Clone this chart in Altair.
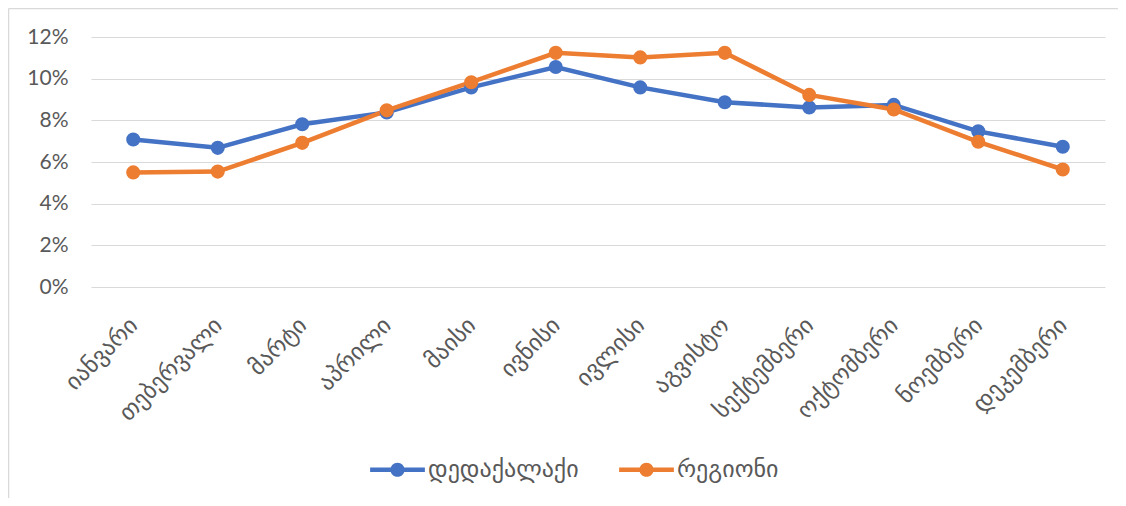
import altair as alt
import pandas as pd

months = ["იანვარი", "თებერვალი", "მარტი", "აპრილი", "მაისი", "ივნისი",
          "ივლისი", "აგვისტო", "სექტემბერი", "ოქტომბერი", "ნოემბერი", "დეკემბერი"]
capital = [7.08, 6.68, 7.81, 8.38, 9.58, 10.56, 9.58, 8.87, 8.62, 8.74, 7.47, 6.73]
region = [5.50, 5.54, 6.92, 8.48, 9.83, 11.24, 11.02, 11.24, 9.22, 8.52, 6.97, 5.64]
series = ["დედაქალაქი", "რეგიონი"]
colors = ["#4472C4", "#ED7D31"]

rows = []
for m, c, r in zip(months, capital, region):
    rows.append({"month": m, "series": series[0], "value": c / 100})
    rows.append({"month": m, "series": series[1], "value": r / 100})
df = pd.DataFrame(rows)

FONT = "Lato, DejaVu Sans"
legend_path = ("M -1 -0.085 L 1 -0.085 L 1 0.085 L -1 0.085 Z "
               "M 0.26 0 A 0.26 0.26 0 1 1 -0.26 0 A 0.26 0.26 0 1 1 0.26 0 Z")

base = alt.Chart(df)
lines = base.mark_line(strokeWidth=4.5, point=alt.OverlayMarkDef(filled=True, size=200, opacity=1)).encode(
    x=alt.X("month:N", sort=months, title=None,
            scale=alt.Scale(paddingInner=1, paddingOuter=0.5),
            axis=alt.Axis(labelAngle=-45, ticks=False, domain=False, labelFontSize=23.5,
                          labelPadding=26, labelOffset=-8, labelColor="#595959", labelFont=FONT)),
    y=alt.Y("value:Q", title=None,
            scale=alt.Scale(domain=[0, 0.12], nice=False),
            axis=alt.Axis(format=".0%", values=[0, 0.02, 0.04, 0.06, 0.08, 0.10, 0.12],
                          ticks=False, domain=False, labelFontSize=21, labelPadding=23,
                          labelColor="#595959", labelFont=FONT, gridColor="#D9D9D9",
                          gridWidth=1.2)),
    color=alt.Color("series:N", sort=series,
                    scale=alt.Scale(domain=series, range=colors),
                    legend=alt.Legend(title=None, orient="none", direction="horizontal",
                                      legendX=279, legendY=405,
                                      symbolType=legend_path, symbolSize=3000,
                                      symbolStrokeWidth=0, labelFontSize=24,
                                      labelColor="#595959", labelFont=FONT,
                                      columnPadding=40, labelOffset=3)),
)

frame_left = alt.Chart(pd.DataFrame({"k": [0]})).mark_rule(color="#D9D9D9", strokeWidth=1.5).encode(
    x=alt.value(-82.5), y=alt.value(-28.5), y2=alt.value(470))
frame_top = alt.Chart(pd.DataFrame({"k": [0]})).mark_rule(color="#D9D9D9", strokeWidth=1.5).encode(
    x=alt.value(-82.5), x2=alt.value(1040), y=alt.value(-28.5))

chart = alt.layer(frame_left, frame_top, lines).properties(
    width=1014, height=250,
    background="white",
    autosize=alt.AutoSizeParams(type="none"),
    padding={"left": 83, "top": 29, "right": 13, "bottom": 211},
).configure_view(stroke=None)

chart.save("out.html", embed_options={"renderer": "svg", "actions": False})
